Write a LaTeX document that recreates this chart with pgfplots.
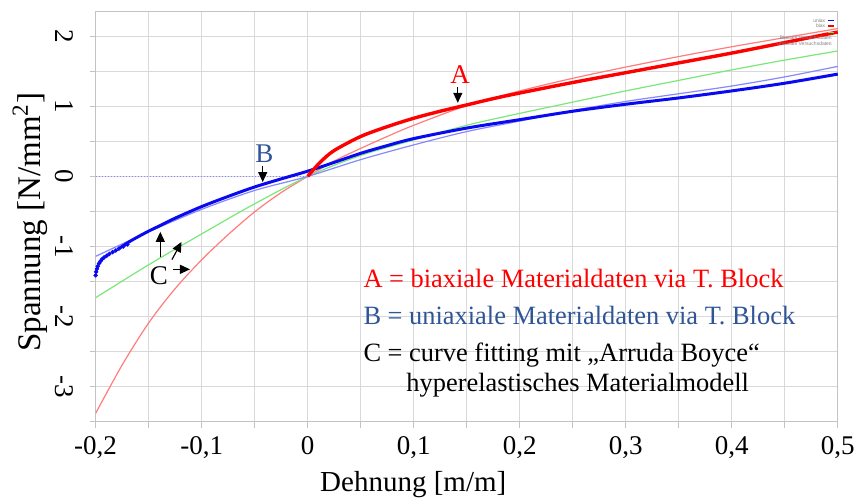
\documentclass[border=0pt]{standalone}
\usepackage{pgfplots}
\pgfplotsset{compat=1.18}
\usepackage{fontspec}
\setmainfont{Liberation Serif}
\setsansfont{Liberation Sans}
\usetikzlibrary{arrows.meta}
\definecolor{thinred}{RGB}{255,125,125}
\definecolor{thingreen}{RGB}{120,232,120}
\definecolor{thinblue}{RGB}{135,135,255}
\definecolor{thickblue}{RGB}{10,10,240}
\definecolor{bblue}{RGB}{47,85,151}
\definecolor{gridgray}{RGB}{217,217,217}
\definecolor{axgray}{RGB}{195,195,195}
\begin{document}
\begin{tikzpicture}
\begin{axis}[
  name=ax,
  scale only axis,
  width=371pt, height=205pt,
  xmin=-0.2, xmax=0.5, ymin=-3.5, ymax=2.35,
  xtick={-0.2,-0.1,0,0.1,0.2,0.3,0.4,0.5},
  xticklabels={{-0,2},{-0,1},0,{0,1},{0,2},{0,3},{0,4},{0,5}},
  minor xtick={-0.15,-0.05,0.05,0.15,0.25,0.35,0.45},
  ytick={-3,-2,-1,0,1,2},
  yticklabels={-3,-2,-1,0,1,2},
  minor ytick={-3.5,-2.5,-1.5,-0.5,0.5,1.5},
  grid=both,
  major grid style={gridgray, line width=0.5pt},
  minor grid style={gridgray, line width=0.5pt},
  axis line style={axgray, line width=0.6pt},
  tick style={axgray, line width=0.5pt},
  tick align=outside,
  major tick length=3pt, minor tick length=3pt,
  xtick pos=bottom, ytick pos=left,
  ticklabel style={font=\fontsize{13.5}{16}\selectfont, text=black},
  yticklabel style={xshift=-12.8pt, rotate=-90, anchor=center},
  xticklabel style={anchor=north, yshift=-1pt},
  xlabel={Dehnung [m/m]},
  ylabel={Spannung [N/mm\textsuperscript{2}]},
  xlabel style={font=\fontsize{14.5}{17}\selectfont, at={(axis description cs:0.428,0)}, anchor=center, yshift=-31.6pt},
  ylabel style={font=\fontsize{16.5}{19}\selectfont, at={(axis description cs:-0.0884,0.487)}, anchor=center},
  clip=true,
]
% dotted zero line
\addplot[thinblue, densely dotted, line width=0.5pt] coordinates {(-0.2,0) (0,0)};
% fit curves
\addplot[thinred, line width=0.6pt, smooth] coordinates {
(-0.2,-3.38) (-0.175,-2.69) (-0.15,-2.09) (-0.125,-1.60) (-0.1,-1.19) (-0.075,-0.83) (-0.05,-0.505) (-0.025,-0.23) (0,0) (0.025,0.22) (0.05,0.40) (0.075,0.57) (0.1,0.73) (0.15,1.01) (0.2,1.22) (0.25,1.40) (0.3,1.56) (0.35,1.71) (0.4,1.85) (0.45,1.98) (0.5,2.11)};
\addplot[thingreen, line width=0.6pt, smooth] coordinates {
(-0.2,-1.73) (-0.15,-1.26) (-0.1,-0.82) (-0.05,-0.39) (0,0) (0.05,0.30) (0.1,0.52) (0.15,0.73) (0.2,0.90) (0.25,1.06) (0.3,1.22) (0.35,1.37) (0.4,1.52) (0.45,1.66) (0.5,1.79)};
\addplot[thinblue, line width=0.6pt, smooth] coordinates {
(-0.2,-1.14) (-0.15,-0.79) (-0.1,-0.47) (-0.05,-0.20) (0,0) (0.05,0.24) (0.1,0.45) (0.15,0.64) (0.2,0.79) (0.25,0.94) (0.3,1.07) (0.35,1.18) (0.4,1.29) (0.45,1.42) (0.5,1.57)};
% uniaxial data (B)
\addplot[thickblue, line width=1.5pt, smooth] coordinates {
(-0.178,-1.03) (-0.167,-0.92) (-0.15,-0.78) (-0.139,-0.70) (-0.125,-0.595) (-0.1,-0.43) (-0.075,-0.285) (-0.05,-0.15) (-0.025,-0.035) (0,0.075) (0.025,0.20) (0.05,0.33) (0.075,0.44) (0.1,0.54) (0.15,0.69) (0.2,0.81) (0.25,0.93) (0.3,1.03) (0.35,1.12) (0.4,1.22) (0.45,1.33) (0.5,1.46)};
\addplot[thickblue, only marks, mark=*, mark size=0.9pt] coordinates {
(-0.2,-1.41) (-0.1995,-1.36) (-0.1988,-1.32) (-0.198,-1.28) (-0.1968,-1.24) (-0.1955,-1.21) (-0.194,-1.18) (-0.192,-1.155) (-0.1895,-1.13) (-0.187,-1.105) (-0.184,-1.08) (-0.181,-1.055) (-0.178,-1.03) (-0.174,-1.0) (-0.17,-0.97)};
% biaxial data (A)
\addplot[red, line width=1.7pt, smooth] coordinates {
(0,0) (0.005,0.09) (0.013,0.22) (0.025,0.37) (0.05,0.57) (0.075,0.71) (0.1,0.83) (0.125,0.93) (0.15,1.02) (0.175,1.11) (0.2,1.19) (0.25,1.34) (0.3,1.48) (0.35,1.62) (0.4,1.76) (0.45,1.91) (0.5,2.06)};
% annotations
\node[red, font=\fontsize{13.5}{16}\selectfont] at (axis cs:0.1438,1.45) {A};
\draw[-{Triangle[length=5pt,width=4.5pt]}, line width=0.6pt] (axis cs:0.1416,1.27) -- (axis cs:0.1416,1.05);
\node[bblue, font=\fontsize{13.5}{16}\selectfont] at (axis cs:-0.0408,0.33) {B};
\draw[-{Triangle[length=5pt,width=4.5pt]}, line width=0.6pt] (axis cs:-0.0424,0.15) -- (axis cs:-0.0424,-0.08);
\node[black, font=\fontsize{13.5}{16}\selectfont] at (axis cs:-0.1404,-1.41) {C};
\draw[-{Triangle[length=5pt,width=4.5pt]}, line width=0.6pt] (axis cs:-0.139,-1.15) -- (axis cs:-0.139,-0.79);
\draw[-{Triangle[length=5pt,width=4.5pt]}, line width=0.6pt] (axis cs:-0.128,-1.186) -- (axis cs:-0.119,-0.934);
\draw[-{Triangle[length=5pt,width=4.5pt]}, line width=0.6pt] (axis cs:-0.1267,-1.325) -- (axis cs:-0.111,-1.325);
% text block
\node[red, anchor=base west, inner sep=0pt, font=\fontsize{13.2}{16}\selectfont] at (axis cs:0.0523,-1.578) {A = biaxiale Materialdaten via T. Block};
\node[bblue, anchor=base west, inner sep=0pt, font=\fontsize{13.2}{16}\selectfont] at (axis cs:0.0523,-2.116) {B = uniaxiale Materialdaten via T. Block};
\node[black, anchor=base west, inner sep=0pt, font=\fontsize{13.2}{16}\selectfont] at (axis cs:0.0523,-2.641) {C = curve fitting mit „Arruda Boyce“};
\node[black, anchor=base west, inner sep=0pt, font=\fontsize{13.2}{16}\selectfont] at (axis cs:0.0928,-3.07) {hyperelastisches Materialmodell};
% tiny legend
\node[anchor=east, inner sep=0pt, text=gray, font=\sffamily\fontsize{2.5}{3}\selectfont] at (axis cs:0.4885,2.223) {uniax};
\draw[thickblue, line width=0.8pt] (axis cs:0.4905,2.223) -- (axis cs:0.4965,2.223);
\node[anchor=east, inner sep=0pt, text=gray, font=\sffamily\fontsize{2.5}{3}\selectfont] at (axis cs:0.4885,2.15) {biax};
\draw[red, line width=0.8pt] (axis cs:0.4905,2.15) -- (axis cs:0.4965,2.15);
\draw[thingreen!70!green, line width=0.8pt] (axis cs:0.4905,2.056) -- (axis cs:0.4965,2.056);
\node[anchor=east, inner sep=0pt, text=gray, font=\sffamily\fontsize{2.5}{3}\selectfont] at (axis cs:0.4947,1.976) {Biaxiale Versuchsdaten};
\node[anchor=east, inner sep=0pt, text=gray, font=\sffamily\fontsize{2.5}{3}\selectfont] at (axis cs:0.4947,1.894) {Uniaxiale Versuchsdaten};
\end{axis}
\pgfresetboundingbox
\path[use as bounding box] ([shift={(-47.8pt,-39.15pt)}]ax.south west) rectangle ([shift={(9.6pt,5.85pt)}]ax.north east);
\end{tikzpicture}
\end{document}
